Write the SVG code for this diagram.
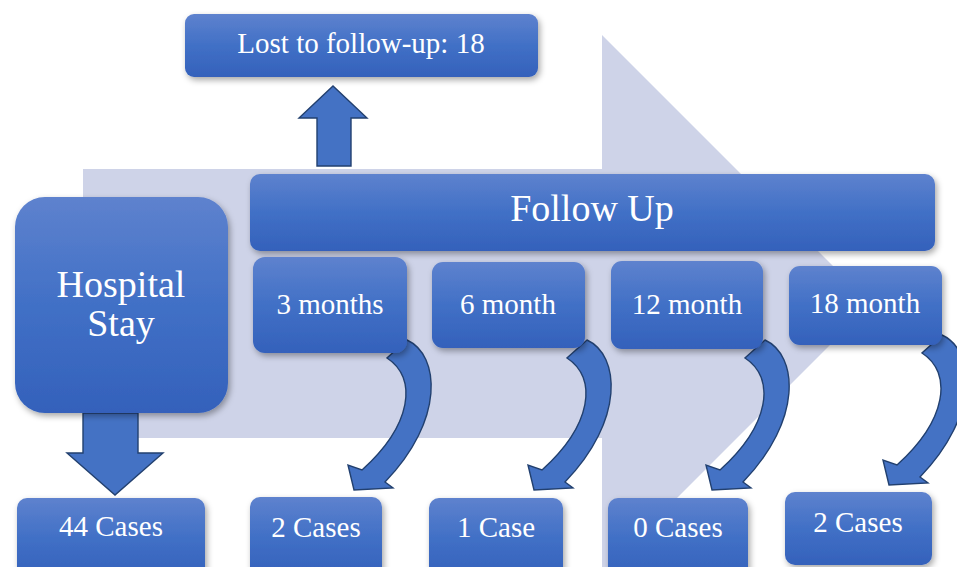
<svg xmlns="http://www.w3.org/2000/svg" width="957" height="567" viewBox="0 0 957 567">
  <defs>
    <linearGradient id="boxGrad" x1="0" y1="0" x2="0" y2="1">
      <stop offset="0" stop-color="#5E82CE"/>
      <stop offset="0.5" stop-color="#4170C6"/>
      <stop offset="1" stop-color="#3461BB"/>
    </linearGradient>
    <filter id="shadow" x="-20%" y="-20%" width="140%" height="150%">
      <feDropShadow dx="2" dy="3" stdDeviation="3" flood-color="#000" flood-opacity="0.35"/>
    </filter>
    <path id="curved" d="M0,0 C33,15 38,80 -22,142 L-14,148 L-53,150 L-59,125 L-45,130 C5,85 11,38 -20,18 Z"/>
  </defs>
  <style>
    .box { fill: url(#boxGrad); filter: url(#shadow); }
    text { font-family: "Liberation Serif", Tinos, "Times New Roman", Times, serif; fill: #FFFFFF; text-anchor: middle; }
    .big { font-size: 38px; }
    .sm { font-size: 29px; }
    .arr { fill: #4472C4; stroke: #22406F; stroke-width: 1.4; stroke-linejoin: miter; }
  </style>
  <rect width="957" height="567" fill="#FFFFFF"/>
  <polygon id="background-arrow" points="83,169 602,169 602,35 871,304 602,573 602,438 83,438" fill="#CED3E8"/>

  <g id="connectors">
    <polygon class="arr" points="317,166 351,166 351,118 367,118 333,86 299,118 317,118"/>
    <polygon class="arr" points="83,413 138,413 138,453 163,453 115,495 67,453 83,453"/>
    <use href="#curved" class="arr" transform="translate(407,340)"/>
    <use href="#curved" class="arr" transform="translate(587,340)"/>
    <use href="#curved" class="arr" transform="translate(765,340)"/>
    <use href="#curved" class="arr" transform="translate(942,335)"/>
  </g>

  <g id="lost">
    <rect class="box" x="185" y="14" width="353" height="63" rx="9"/>
    <text class="sm" x="361" y="53">Lost to follow-up: 18</text>
  </g>
  <g id="follow-up">
    <rect class="box" x="250" y="174" width="685" height="77" rx="10"/>
    <text class="big" x="592" y="221">Follow Up</text>
  </g>
  <g id="hospital-stay">
    <rect class="box" x="15" y="197" width="213" height="216" rx="30"/>
    <text class="big" x="121" y="297">Hospital</text>
    <text class="big" x="121" y="336">Stay</text>
  </g>
  <g id="m3">
    <rect class="box" x="253" y="257" width="154" height="96" rx="12"/>
    <text class="sm" x="330" y="314">3 months</text>
  </g>
  <g id="m6">
    <rect class="box" x="432" y="262" width="153" height="86" rx="11"/>
    <text class="sm" x="508" y="314">6 month</text>
  </g>
  <g id="m12">
    <rect class="box" x="611" y="261" width="152" height="88" rx="11"/>
    <text class="sm" x="687" y="314">12 month</text>
  </g>
  <g id="m18">
    <rect class="box" x="789" y="266" width="153" height="79" rx="11"/>
    <text class="sm" x="865" y="313">18 month</text>
  </g>
  <g id="c44">
    <rect class="box" x="17" y="498" width="188" height="80" rx="10"/>
    <text class="sm" x="111" y="536">44 Cases</text>
  </g>
  <g id="c3">
    <rect class="box" x="250" y="497" width="132" height="80" rx="10"/>
    <text class="sm" x="316" y="537">2 Cases</text>
  </g>
  <g id="c6">
    <rect class="box" x="429" y="498" width="134" height="80" rx="10"/>
    <text class="sm" x="496" y="537">1 Case</text>
  </g>
  <g id="c12">
    <rect class="box" x="608" y="498" width="140" height="80" rx="10"/>
    <text class="sm" x="678" y="537">0 Cases</text>
  </g>
  <g id="c18">
    <rect class="box" x="785" y="492" width="147" height="73" rx="10"/>
    <text class="sm" x="858" y="532">2 Cases</text>
  </g>
</svg>
